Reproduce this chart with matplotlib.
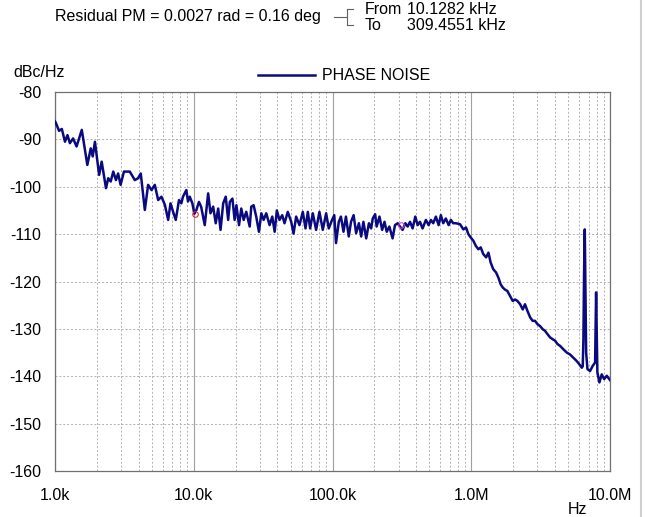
import numpy as np
import matplotlib
matplotlib.use("Agg")
import matplotlib.pyplot as plt
from matplotlib.lines import Line2D

plt.rcParams['font.family'] = ['Liberation Sans', 'DejaVu Sans']

# Phase noise trace: frequency (Hz) and level (dBc/Hz)
freq_hz = [
    1.00e3, 1.01e3, 1.07e3, 1.12e3, 1.18e3, 1.23e3, 1.28e3, 1.35e3, 1.43e3, 1.56e3,
    1.71e3, 1.81e3, 1.87e3, 1.94e3, 2.08e3, 2.17e3, 2.33e3, 2.42e3, 2.52e3, 2.63e3,
    2.75e3, 2.85e3, 2.97e3, 3.14e3, 3.46e3, 3.76e3, 3.97e3, 4.15e3, 4.44e3, 4.69e3,
    4.96e3, 5.24e3, 5.54e3, 5.85e3, 6.19e3, 6.54e3, 6.80e3, 7.10e3, 7.42e3, 7.83e3,
    8.14e3, 8.36e3, 8.84e3, 9.09e3, 9.36e3, 9.77e3, 10.1e3, 10.45e3, 10.9e3, 11.3e3,
    12.0e3, 12.7e3, 13.2e3, 13.8e3, 14.4e3, 15.0e3, 15.6e3, 16.3e3, 17.0e3, 17.7e3,
    18.2e3, 19.0e3, 19.7e3, 20.3e3, 21.2e3, 22.0e3, 22.9e3, 23.9e3, 25.3e3, 26.0e3,
    27.0e3, 28.2e3, 29.5e3, 30.7e3, 31.9e3, 33.3e3, 35.2e3, 36.8e3, 38.3e3, 39.7e3,
    41.5e3, 43.4e3, 45.1e3, 47.6e3, 50.4e3, 52.4e3, 54.7e3, 57.8e3, 61.1e3, 63.9e3,
    66.4e3, 69.0e3, 72.1e3, 76.2e3, 80.5e3, 85.1e3, 90.0e3, 94.0e3, 99.3e3, 103e3,
    106e3, 111e3, 115e3, 120e3, 125e3, 131e3, 136e3, 142e3, 148e3, 155e3,
    161e3, 167e3, 175e3, 183e3, 190e3, 195e3, 203e3, 208e3, 218e3, 228e3,
    237e3, 246e3, 257e3, 271e3, 282e3, 295e3, 306e3, 320e3, 335e3, 348e3,
    362e3, 378e3, 395e3, 411e3, 427e3, 446e3, 471e3, 493e3, 512e3, 532e3,
    556e3, 582e3, 604e3, 628e3, 656e3, 687e3, 713e3, 741e3, 774e3, 830e3,
    877e3, 917e3, 953e3, 991e3, 1.035e6, 1.08e6, 1.125e6, 1.17e6, 1.22e6, 1.28e6,
    1.33e6, 1.38e6, 1.44e6, 1.51e6, 1.57e6, 1.63e6, 1.69e6, 1.75e6, 1.82e6, 1.90e6,
    1.99e6, 2.07e6, 2.15e6, 2.25e6, 2.35e6, 2.44e6, 2.54e6, 2.66e6, 2.77e6, 2.88e6,
    3.00e6, 3.13e6, 3.28e6, 3.40e6, 3.54e6, 3.70e6, 3.87e6, 4.02e6, 4.18e6, 4.37e6,
    4.61e6, 4.88e6, 5.15e6, 5.45e6, 5.76e6, 6.02e6, 6.26e6, 6.36e6, 6.43e6, 6.50e6,
    6.58e6, 6.65e6, 6.73e6, 6.88e6, 7.18e6, 7.51e6, 7.81e6, 7.89e6, 7.94e6, 8.03e6,
    8.11e6, 8.39e6, 8.72e6, 9.07e6, 9.48e6, 10.0e6,
]
noise_dbc = [
    -86.2, -86.4, -88.2, -87.8, -90.5, -89.1, -90.8, -89.8, -91.5, -88.0,
    -95.4, -91.9, -93.6, -90.5, -97.5, -94.7, -100.3, -98.2, -98.9, -96.8,
    -98.6, -97.2, -99.6, -96.8, -96.8, -98.6, -98.2, -97.2, -104.9, -99.6,
    -100.7, -99.6, -102.8, -102.1, -103.8, -107.0, -103.5, -105.3, -107.0, -102.8,
    -103.5, -102.1, -100.7, -103.1, -102.1, -103.5, -105.7, -104.9, -103.2, -104.2,
    -108.1, -101.4, -105.6, -104.2, -107.7, -104.6, -109.1, -103.5, -102.1, -107.0,
    -103.2, -102.5, -107.0, -103.9, -108.1, -104.6, -107.0, -105.3, -108.4, -104.2,
    -103.9, -106.3, -109.5, -105.6, -107.0, -105.6, -108.1, -106.3, -109.5, -105.0,
    -107.0, -106.0, -107.7, -105.3, -107.4, -109.9, -106.3, -108.1, -105.3, -108.8,
    -105.3, -108.8, -105.6, -109.1, -105.3, -109.1, -105.6, -108.8, -107.0, -106.0,
    -111.9, -107.4, -106.3, -109.5, -106.3, -110.5, -107.4, -106.0, -109.8, -107.7,
    -110.5, -107.4, -110.9, -107.7, -108.8, -106.7, -105.8, -108.4, -106.3, -109.1,
    -107.4, -109.5, -108.4, -110.9, -108.1, -107.7, -108.4, -109.1, -107.7, -108.4,
    -107.4, -108.8, -106.3, -108.1, -107.4, -108.8, -107.0, -108.1, -107.0, -107.7,
    -106.3, -108.1, -106.0, -107.7, -106.7, -108.1, -107.0, -107.7, -107.7, -107.9,
    -109.0, -108.6, -110.0, -110.7, -111.4, -112.5, -113.2, -112.8, -114.2, -114.9,
    -113.9, -116.0, -117.4, -118.1, -119.2, -120.6, -121.3, -121.7, -122.0, -123.0,
    -124.1, -123.8, -124.1, -124.8, -125.9, -124.8, -126.2, -127.6, -128.3, -128.3,
    -129.0, -129.4, -130.1, -130.4, -131.1, -131.8, -132.2, -132.5, -133.2, -133.6,
    -134.3, -135.0, -135.4, -136.1, -136.8, -137.5, -138.2, -137.9, -132.5, -118.5,
    -109.0, -120.9, -135.0, -138.5, -138.9, -137.8, -137.1, -128.0, -122.3, -131.5,
    -139.2, -141.3, -139.6, -140.6, -139.9, -140.8,
]

# integration limit markers
marker_freq = [10.1282e3, 309.4551e3]
marker_level = [-105.8, -108.0]
marker_colors = ['#e03030', '#d040d0']

x_ticks = [1e3, 1e4, 1e5, 1e6, 1e7]
x_ticklabels = ['1.0k', '10.0k', '100.0k', '1.0M', '10.0M']
y_ticks = [-160, -150, -140, -130, -120, -110, -100, -90, -80]

trace_color = '#0a0a80'
fs = 11.5

fig = plt.figure(figsize=(6.51, 5.17), dpi=100)
ax = fig.add_axes([55 / 651, 1 - 471 / 517, 555 / 651, 379 / 517])

ax.plot(freq_hz, noise_dbc, color=trace_color, lw=1.8, zorder=3)
for f, lv, c in zip(marker_freq, marker_level, marker_colors):
    ax.plot([f], [lv], marker='o', ms=4, mfc='none', mec=c, mew=0.8, zorder=4)

ax.set_xscale('log')
ax.set_xlim(1e3, 1e7)
ax.set_ylim(-160, -80)
ax.set_xticks(x_ticks)
ax.set_xticklabels(x_ticklabels)
ax.set_yticks(y_ticks)
ax.set_yticklabels([str(v) for v in y_ticks])
ax.xaxis.set_minor_locator(matplotlib.ticker.LogLocator(base=10, subs=np.arange(2, 10)))
ax.xaxis.set_minor_formatter(matplotlib.ticker.NullFormatter())
ax.tick_params(axis='both', which='both', length=0, labelsize=fs, colors='black')
ax.tick_params(axis='x', pad=12)
ax.tick_params(axis='y', pad=10)

ax.grid(True, which='major', axis='x', color='#a0a0a0', lw=0.8, ls='-')
ax.grid(True, which='minor', axis='x', color='#b0b0b0', lw=0.7, ls=(0, (2, 2)))
ax.grid(True, which='major', axis='y', color='#b0b0b0', lw=0.7, ls=(0, (2, 2)))
for s in ax.spines.values():
    s.set_color('#707070')
    s.set_linewidth(0.9)

# labels
fig.text(13 / 651, 1 - 73 / 517, 'dBc/Hz', fontsize=fs, va='center', ha='left')
fig.text(577 / 651, 1 - 509 / 517, 'Hz', fontsize=fs, va='center', ha='center')

# legend
fig.add_artist(Line2D([258 / 651, 315 / 651], [1 - 75 / 517] * 2, color=trace_color, lw=1.8))
fig.text(322 / 651, 1 - 75 / 517, 'PHASE NOISE', fontsize=fs, va='center', ha='left')

# integration summary
fig.text(55 / 651, 1 - 17 / 517, 'Residual PM = 0.0027 rad = 0.16 deg', fontsize=fs, va='center', ha='left')
bx = 347 / 651
fig.add_artist(Line2D([334 / 651, bx], [1 - 17 / 517] * 2, color='#606060', lw=0.8))
fig.add_artist(Line2D([bx, bx], [1 - 9 / 517, 1 - 25 / 517], color='#606060', lw=0.8))
fig.add_artist(Line2D([bx, 353 / 651], [1 - 9 / 517] * 2, color='#606060', lw=0.8))
fig.add_artist(Line2D([bx, 353 / 651], [1 - 25 / 517] * 2, color='#606060', lw=0.8))
fig.text(365 / 651, 1 - 9 / 517, 'From', fontsize=fs, va='center', ha='left')
fig.text(407 / 651, 1 - 9 / 517, '10.1282 kHz', fontsize=fs, va='center', ha='left')
fig.text(365 / 651, 1 - 25 / 517, 'To', fontsize=fs, va='center', ha='left')
fig.text(407 / 651, 1 - 25 / 517, '309.4551 kHz', fontsize=fs, va='center', ha='left')

# right window edge
fig.add_artist(Line2D([641 / 651] * 2, [0, 1], color='#d0d0d0', lw=1.5))

fig.savefig('out.png', dpi=100)
